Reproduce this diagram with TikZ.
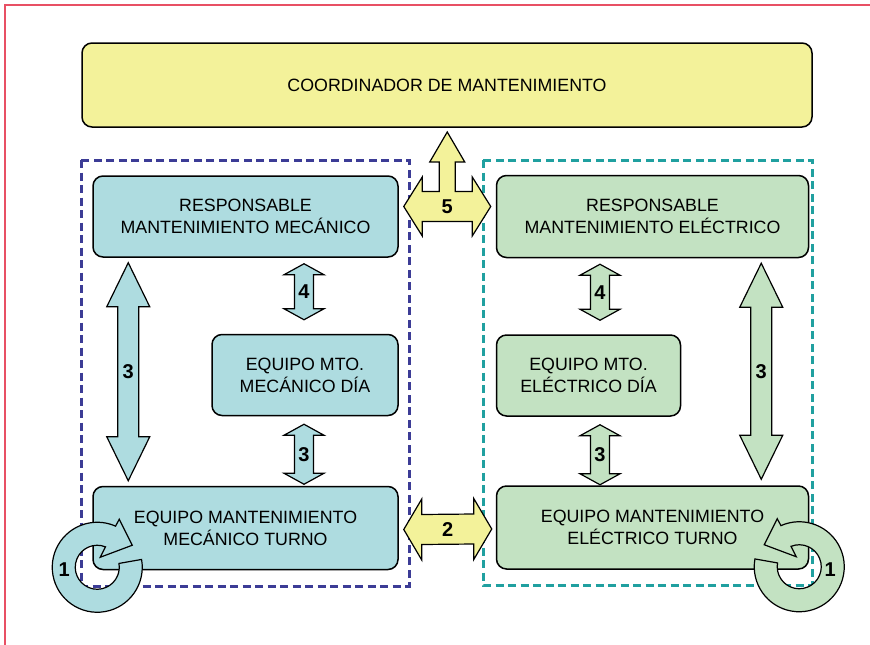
\documentclass[tikz,border=0pt]{standalone}
\usepackage{fontspec}
\setmainfont{Liberation Sans}
\usetikzlibrary{positioning,calc}

\definecolor{coordfill}{RGB}{243,242,154}
\definecolor{mecfill}{RGB}{174,220,224}
\definecolor{elecfill}{RGB}{195,226,194}
\definecolor{mecdash}{RGB}{60,60,150}
\definecolor{elecdash}{RGB}{32,160,160}
\definecolor{framered}{RGB}{232,80,100}

\begin{document}
\begin{tikzpicture}[
    x=1pt, y=-1pt,
    box/.style={draw=black, line width=1.5pt, rounded corners=10pt, fill=#1,
                align=center, inner sep=0pt, font=\fontsize{17.8}{22}\selectfont},
    zone/.style={draw=#1, line width=3pt, dash pattern=on 8pt off 4.5pt},
    num/.style={font=\fontsize{20}{20}\selectfont\bfseries, inner sep=0pt},
    arrowline/.style={draw=black, line width=1.2pt, line join=miter, fill=#1},
    dblv/.style n args={3}{to path={
        -- ($(\tikztostart)+(#1,#3)$) -- ($(\tikztostart)+(#2,#3)$)
        -- ($(\tikztotarget)+(#2,-#3)$) -- ($(\tikztotarget)+(#1,-#3)$) -- (\tikztotarget)
        -- ($(\tikztotarget)+(-#1,-#3)$) -- ($(\tikztotarget)+(-#2,-#3)$)
        -- ($(\tikztostart)+(-#2,#3)$) -- ($(\tikztostart)+(-#1,#3)$) -- cycle}},
    dblh/.style n args={3}{to path={
        -- ($(\tikztostart)+(#3,-#1)$) -- ($(\tikztostart)+(#3,-#2)$)
        -- ($(\tikztotarget)+(-#3,-#2)$) -- ($(\tikztotarget)+(-#3,-#1)$) -- (\tikztotarget)
        -- ($(\tikztotarget)+(-#3,#1)$) -- ($(\tikztotarget)+(-#3,#2)$)
        -- ($(\tikztostart)+(#3,#2)$) -- ($(\tikztostart)+(#3,#1)$) -- cycle}},
    pics/ring/.style={code={
        \draw[arrowline=#1] (-10:45) arc[start angle=-10, end angle=294, radius=45]
          -- (22,-48) -- (35,-22) -- (3,-10) -- (292:22)
          arc[start angle=292, end angle=-10, radius=22] -- cycle;
      }},
  ]
  \useasboundingbox (0,0) rectangle (870,645);

  % Frame
  \draw[framered, line width=1.5pt] (5,645) -- (5,5) -- (870,5);

  % Groups
  \draw[zone=mecdash] (81,160) rectangle (409,586);
  \draw[zone=elecdash] (483,160) rectangle (812,585);

  % Top
  \node[box=coordfill, minimum width=730pt, minimum height=84pt] (coord) at (447,85)
    {COORDINADOR DE MANTENIMIENTO};

  % Mechanical side
  \node[box=mecfill, minimum width=305pt, minimum height=81pt] (rm) at (245.5,216.5)
    {RESPONSABLE\\MANTENIMIENTO MECÁNICO};
  \node[box=mecfill, minimum width=186pt, minimum height=81pt,
        below=76pt of rm.south east, anchor=north east] (dm) {EQUIPO MTO.\\MECÁNICO DÍA};
  \node[box=mecfill, minimum width=305pt, minimum height=83pt, below=228pt of rm] (tm)
    {EQUIPO MANTENIMIENTO\\MECÁNICO TURNO};

  % Electrical side
  \node[box=elecfill, minimum width=312pt, minimum height=82pt, right=97pt of rm] (re)
    {RESPONSABLE\\MANTENIMIENTO ELÉCTRICO};
  \node[box=elecfill, minimum width=184pt, minimum height=81pt,
        below=76pt of re.south west, anchor=north west] (de) {EQUIPO MTO.\\ELÉCTRICO DÍA};
  \node[box=elecfill, minimum width=312pt, minimum height=83pt, below=227pt of re] (te)
    {EQUIPO MANTENIMIENTO\\ELÉCTRICO TURNO};

  % Arrow ends
  \coordinate (m3t) at ($(rm.south west)+(36,5)$);
  \coordinate (m3b) at ($(tm.north west)+(36,-5)$);
  \coordinate (m4t) at ($(dm.north)+(-1,-70)$);
  \coordinate (m4b) at ($(dm.north)+(-1,-14)$);
  \coordinate (md3t) at ($(dm.south)+(-1,8)$);
  \coordinate (md3b) at ($(dm.south)+(-1,68)$);
  \coordinate (e4t) at ($(de.north)+(11.5,-70)$);
  \coordinate (e4b) at ($(de.north)+(11.5,-14)$);
  \coordinate (ed3t) at ($(de.south)+(11.5,8)$);
  \coordinate (ed3b) at ($(de.south)+(11.5,68)$);
  \coordinate (e3t) at ($(re.south east)+(-48,5)$);
  \coordinate (e3b) at ($(te.north east)+(-48,-6)$);
  \coordinate (a2l) at ($(tm.east)+(5,1.5)$);
  \coordinate (a2r) at ($(te.west)+(-4,1.5)$);
  \coordinate (a5) at ($(rm.east)!0.5!(re.west)+(0,-10)$);
  \coordinate (mring) at ($(tm.south west)+(5,-3)$);
  \coordinate (ering) at ($(te.south east)+(-10,-3)$);

  % Arrows
  \draw[arrowline=mecfill, dblv={21.5}{10.5}{44}] (m3t) to (m3b);
  \draw[arrowline=mecfill, dblv={20}{9.5}{11}] (m4t) to (m4b);
  \draw[arrowline=mecfill, dblv={20}{9.5}{11}] (md3t) to (md3b);
  \draw[arrowline=elecfill, dblv={20}{9.5}{11}] (e4t) to (e4b);
  \draw[arrowline=elecfill, dblv={20}{9.5}{11}] (ed3t) to (ed3b);
  \draw[arrowline=elecfill, dblv={21.5}{10.5}{44}] (e3t) to (e3b);
  \draw[arrowline=coordfill, dblh={30.5}{15}{18}] (a2l) to (a2r);
  \begin{scope}[shift={(a5)}]
    \draw[arrowline=coordfill] (0,-74.5) -- (17.5,-44.5) -- (8,-44.5) -- (8,-15)
      -- (25,-15) -- (25,-29.5) -- (43.5,0) -- (25,29.5) -- (25,15) -- (-25,15)
      -- (-25,29.5) -- (-43.5,0) -- (-25,-29.5) -- (-25,-15) -- (-8,-15)
      -- (-8,-44.5) -- (-17.5,-44.5) -- cycle;
  \end{scope}
  \pic at (mring) {ring=mecfill};
  \pic[xscale=-1] at (ering) {ring=elecfill};

  % Labels
  \node[num] at ($(m3t)!0.5!(m3b)$) {3};
  \node[num] at ($(m4t)!0.5!(m4b)$) {4};
  \node[num] at ($(md3t)!0.5!(md3b)$) {3};
  \node[num] at ($(e4t)!0.5!(e4b)$) {4};
  \node[num] at ($(ed3t)!0.5!(ed3b)$) {3};
  \node[num] at ($(e3t)!0.5!(e3b)$) {3};
  \node[num] at ($(a2l)!0.5!(a2r)$) {2};
  \node[num] at (a5) {5};
  \node[num] at ($(mring)+(-33,2)$) {1};
  \node[num] at ($(ering)+(31,3)$) {1};

\end{tikzpicture}
\end{document}
